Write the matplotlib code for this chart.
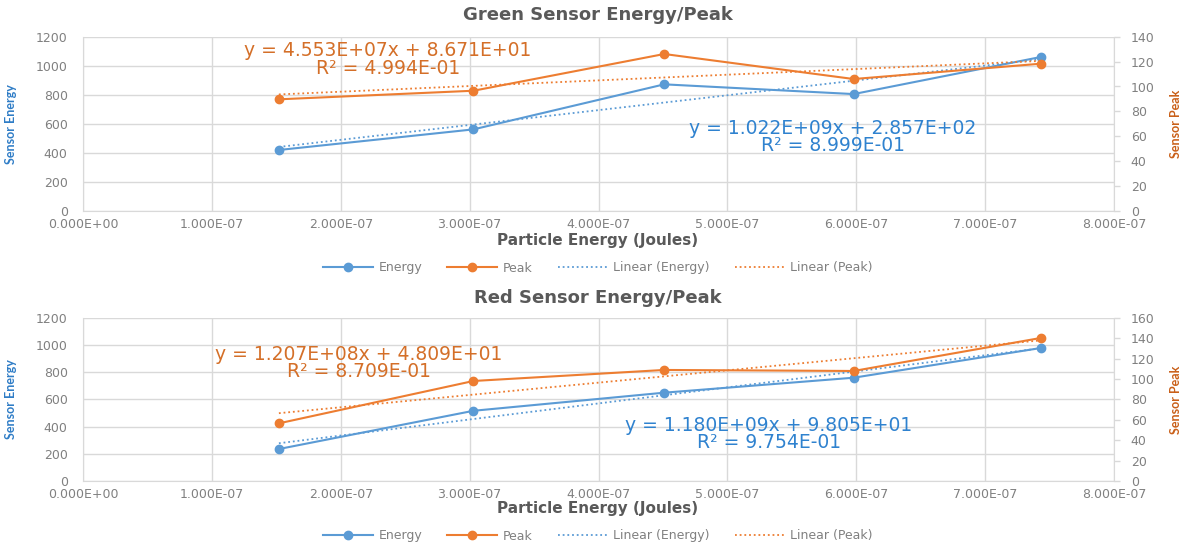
import matplotlib
matplotlib.use("Agg")
import matplotlib.pyplot as plt
import numpy as np
from matplotlib.ticker import FuncFormatter, MultipleLocator
from matplotlib.lines import Line2D

# Particle energies (J) shared by both sensors
particle_energy = [1.52e-7, 3.03e-7, 4.51e-7, 5.98e-7, 7.43e-7]

# Green sensor readings
green_energy = [420, 562, 872, 805, 1060]
green_peak = [89.7, 96.6, 126.1, 106.0, 118.3]

# Red sensor readings
red_energy = [235, 516, 649, 759, 977]
red_peak = [56.5, 98.0, 108.8, 107.8, 140.1]

# Linear trendline coefficients: (slope, intercept, R^2)
green_energy_fit = (1.022e9, 2.857e2, 8.999e-1)
green_peak_fit = (4.553e7, 8.671e1, 4.994e-1)
red_energy_fit = (1.180e9, 9.805e1, 9.754e-1)
red_peak_fit = (1.207e8, 4.809e1, 8.709e-1)

x_ticks = [0, 1e-7, 2e-7, 3e-7, 4e-7, 5e-7, 6e-7, 7e-7, 8e-7]

BLUE = "#5B9BD5"
ORANGE = "#ED7D31"
BLUE_TXT = "#2F82CF"
ORANGE_TXT = "#D46F28"
AXIS_BLUE = "#2E7CC6"
AXIS_ORANGE = "#C95F18"
GRID = "#D9D9D9"
TICK = "#808080"
TITLE = "#595959"

plt.rcParams["font.family"] = ["DejaVu Sans"]

fig = plt.figure(figsize=(11.88, 5.46), dpi=100)
W, H = 1188, 546
TREND = (0, (1, 1.6))


def sci(v, _pos=None):
    return f"{v:.3E}"


def eq_text(fit):
    s, b, r2 = fit
    return f"y = {sci(s)}x + {sci(b)}\nR² = {sci(r2)}"


def panel(rect, title, energy, peak, efit, pfit, peak_max,
          title_y, xlabel_y, legend_y, peq_xy, eeq_xy):
    ax = fig.add_axes(rect)
    ax2 = ax.twinx()
    ax.set_zorder(1)
    ax2.set_zorder(2)
    ax2.patch.set_visible(False)

    x = np.array(particle_energy)
    xs = np.array([x.min(), x.max()])

    ax.plot(x, energy, color=BLUE, lw=1.5, marker="o", ms=6, zorder=3)
    ax.plot(xs, efit[0] * xs + efit[1], color=BLUE, lw=1.3, ls=TREND,
            zorder=2)
    ax2.plot(x, peak, color=ORANGE, lw=1.5, marker="o", ms=6, zorder=3)
    ax2.plot(xs, pfit[0] * xs + pfit[1], color=ORANGE, lw=1.3, ls=TREND,
             zorder=2)

    ax.set_xlim(0, 8e-7)
    ax.set_ylim(0, 1200)
    ax2.set_ylim(0, peak_max)
    ax.set_xticks(x_ticks)
    ax.xaxis.set_major_formatter(FuncFormatter(sci))
    ax.yaxis.set_major_locator(MultipleLocator(200))
    ax2.yaxis.set_major_locator(MultipleLocator(20))

    ax.grid(True, color=GRID, lw=1.0)
    ax.set_axisbelow(True)
    for a in (ax, ax2):
        a.spines["top"].set_visible(False)
        for side in ("left", "bottom", "right"):
            a.spines[side].set_color(GRID)
    ax2.spines["left"].set_visible(False)
    ax2.spines["bottom"].set_visible(False)
    ax.spines["right"].set_visible(False)

    ax.tick_params(axis="both", length=0, labelsize=9, labelcolor=TICK)
    ax.tick_params(axis="x", pad=5)
    ax.tick_params(axis="y", pad=11)
    ax2.tick_params(axis="y", length=4, width=1, color=GRID, direction="out",
                    labelsize=9, labelcolor=TICK, pad=8)

    ax.set_ylabel("Sensor Energy", color=AXIS_BLUE, fontsize=9,
                  fontweight="bold", family=["Lato", "DejaVu Sans"])
    ax.yaxis.set_label_coords((17 - rect[0] * W) / (rect[2] * W), 0.5)
    ax2.set_ylabel("Sensor Peak", color=AXIS_ORANGE, fontsize=9,
                   fontweight="bold", family=["Lato", "DejaVu Sans"],
                   rotation=90)
    ax2.yaxis.set_label_coords((1170 - rect[0] * W) / (rect[2] * W), 0.5)

    fig.text(598 / W, 1 - title_y / H, title, ha="center", va="center",
             fontsize=13, fontweight="bold", color=TITLE)
    fig.text(598 / W, 1 - xlabel_y / H, "Particle Energy (Joules)",
             ha="center", va="center", fontsize=11, fontweight="bold",
             color=TITLE)

    fig.text(peq_xy[0] / W, 1 - peq_xy[1] / H, eq_text(pfit), ha="center",
             va="center", fontsize=13.5, color=ORANGE_TXT, linespacing=0.92)
    fig.text(eeq_xy[0] / W, 1 - eeq_xy[1] / H, eq_text(efit), ha="center",
             va="center", fontsize=13.5, color=BLUE_TXT, linespacing=0.92)

    handles = [
        Line2D([], [], color=BLUE, lw=1.5, marker="o", ms=6),
        Line2D([], [], color=ORANGE, lw=1.5, marker="o", ms=6),
        Line2D([], [], color=BLUE, lw=1.3, ls=TREND),
        Line2D([], [], color=ORANGE, lw=1.3, ls=TREND),
    ]
    labels = ["Energy", "Peak", "Linear (Energy)", "Linear (Peak)"]
    leg = fig.legend(handles, labels, loc="center", ncol=4,
                     bbox_to_anchor=(598 / W, 1 - legend_y / H),
                     frameon=False, fontsize=9, handlelength=4.0,
                     handletextpad=0.45, columnspacing=2.0)
    for t in leg.get_texts():
        t.set_color(TICK)
    return ax, ax2


top_rect = [83 / W, 1 - 211 / H, 1031 / W, (211 - 36.7) / H]
bot_rect = [83 / W, 1 - 481 / H, 1031 / W, (481 - 317.7) / H]

panel(top_rect, "Green Sensor Energy/Peak", green_energy, green_peak,
      green_energy_fit, green_peak_fit, 140,
      title_y=15, xlabel_y=240, legend_y=268,
      peq_xy=(388, 59.5), eeq_xy=(833, 137))

panel(bot_rect, "Red Sensor Energy/Peak", red_energy, red_peak,
      red_energy_fit, red_peak_fit, 160,
      title_y=298, xlabel_y=508, legend_y=536,
      peq_xy=(359, 363), eeq_xy=(769, 434))

fig.savefig("out.png", dpi=100, facecolor="white")
